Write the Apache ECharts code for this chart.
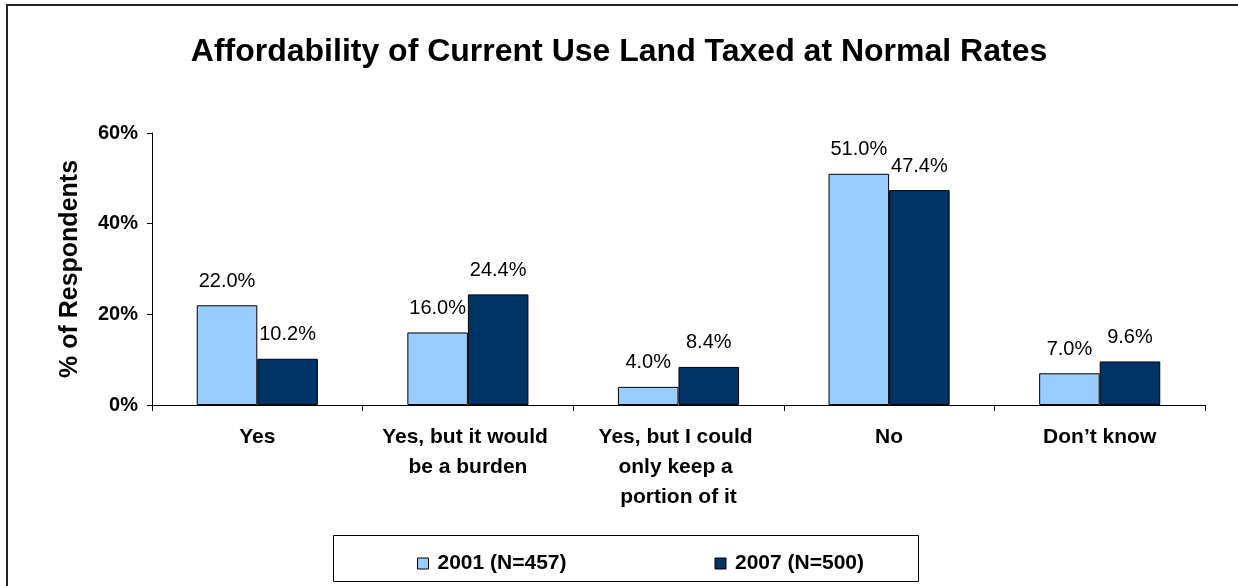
<!DOCTYPE html>
<html>
<head>
<meta charset="utf-8">
<script src="https://cdn.jsdelivr.net/npm/echarts@6/dist/echarts.min.js"></script>
<style>
  html, body { margin: 0; padding: 0; background: #fff; }
  #chart { width: 1238px; height: 586px; }
</style>
</head>
<body>
<div id="chart"></div>
<script>
// Survey answers: can owners afford current use land taxed at normal rates?
const categories = ['Yes', 'Yes, but it would be a burden', 'Yes, but I could only keep a portion of it', 'No', 'Don\u2019t know'];
const series2001 = [22.0, 16.0, 4.0, 51.0, 7.0];
const series2007 = [10.2, 24.4, 8.4, 47.4, 9.6];
const seriesNames = ['2001 (N=457)', '2007 (N=500)'];
const yTicks = [0, 20, 40, 60];

const FONT = '"Liberation Sans", Arial, Helvetica, sans-serif';

const chart = echarts.init(document.getElementById('chart'), null, { renderer: 'canvas' });

const valueLabel = {
  show: true,
  position: 'top',
  distance: 14,
  fontFamily: FONT,
  fontSize: 20,
  color: '#000',
  formatter: p => p.value.toFixed(1) + '%'
};

chart.setOption({
  backgroundColor: '#fff',
  animation: false,
  title: {
    text: 'Affordability of Current Use Land Taxed at Normal Rates',
    left: 'center',
    top: 31,
    textStyle: { fontFamily: FONT, fontSize: 32, fontWeight: 'bold', color: '#000' }
  },
  graphic: [
    {
      type: 'rect',
      shape: { x: 7, y: 5, width: 1400, height: 800 },
      style: { fill: 'none', stroke: '#222', lineWidth: 2 },
      silent: true
    },
    {
      type: 'rect',
      shape: { x: 333.5, y: 535.5, width: 585, height: 46 },
      style: { fill: '#fff', stroke: '#000', lineWidth: 1 },
      silent: true,
      z: -1
    }
  ],
  legend: {
    left: 412,
    top: 548,
    itemGap: 148,
    itemWidth: 11,
    itemHeight: 11,
    icon: 'rect',
    itemStyle: { borderColor: '#000', borderWidth: 1 },
    textStyle: { fontFamily: FONT, fontSize: 21, fontWeight: 'bold', color: '#000', padding: [0, 0, 0, 4] },
    data: seriesNames
  },
  grid: { left: 152, top: 133, width: 1053, height: 272, containLabel: false },
  xAxis: {
    type: 'category',
    data: categories,
    axisLine: { lineStyle: { color: '#000', width: 1 } },
    axisTick: { show: true, length: 6, lineStyle: { color: '#000' } },
    axisLabel: {
      fontFamily: FONT,
      fontSize: 21,
      fontWeight: 'bold',
      color: '#000',
      lineHeight: 30,
      margin: 17,
      width: 188,
      overflow: 'break',
      interval: 0
    }
  },
  yAxis: {
    type: 'value',
    min: yTicks[0],
    max: yTicks[yTicks.length - 1],
    interval: yTicks[1] - yTicks[0],
    name: '% of Respondents',
    nameLocation: 'middle',
    nameRotate: 90,
    nameGap: 69,
    nameTextStyle: { fontFamily: FONT, fontSize: 25, fontWeight: 'bold', color: '#000' },
    axisLine: { show: true, lineStyle: { color: '#000', width: 1 } },
    axisTick: { show: true, length: 5, inside: false, lineStyle: { color: '#000' } },
    splitLine: { show: false },
    axisLabel: {
      fontFamily: FONT,
      fontSize: 20,
      fontWeight: 'bold',
      color: '#000',
      margin: 14,
      formatter: '{value}%'
    }
  },
  series: [
    {
      name: seriesNames[0],
      type: 'bar',
      data: series2001,
      barGap: '0%',
      barCategoryGap: '42.5%',
      itemStyle: { color: '#99CCFF', borderColor: '#000', borderWidth: 1 },
      label: valueLabel
    },
    {
      name: seriesNames[1],
      type: 'bar',
      data: series2007,
      barGap: '0%',
      barCategoryGap: '42.5%',
      itemStyle: { color: '#003366', borderColor: '#000', borderWidth: 1 },
      label: valueLabel
    }
  ]
});
</script>
</body>
</html>
